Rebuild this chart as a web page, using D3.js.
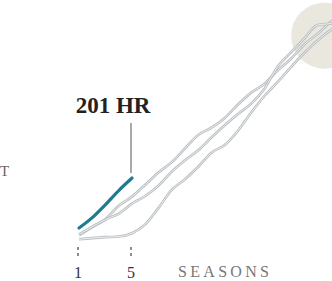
<!DOCTYPE html>
<html><head><meta charset="utf-8">
<script src="https://cdn.jsdelivr.net/npm/d3@7"></script>
<style>body{margin:0;background:#fff}svg{display:block}</style>
</head><body><svg id="c" width="332" height="281"></svg>
<script>
// Career cumulative home runs by season
const aaron = [13,40,66,110,140,179,219,253,298,342,366,398,442,481,510,554,592,639,673,713,733,745,755];
const bonds = [16,41,65,84,117,142,176,222,259,292,334,374,411,445,494,567,613,658,703,708,734];
const ruth  = [0,4,7,9,20,49,103,162,197,238,284,309,356,416,470,516,565,611,652,686,708,714];
const current = [37,71,114,160,201];
const tickSeasons = [1,5];
const tickLabels = ["1","5"];
const highlight = {season:19.5, hr:668};

const svg = d3.select("#c");
const x = d3.scaleLinear().domain([1,5]).range([79,132]);
const y = d3.scaleLinear().domain([0,800]).range([239.3,239.3-0.3049*800]);

svg.append("circle").attr("cx",x(highlight.season)).attr("cy",y(highlight.hr)).attr("r",33).attr("fill","#e9e7de");

const line = d3.line().x((d,i)=>x(i+1)).y(d=>y(d)).curve(d3.curveMonotoneX);
[aaron,bonds,ruth].forEach(s=>{
  svg.append("path").attr("d",line(s)).attr("fill","none").attr("stroke","#b9bec1").attr("stroke-width",2.6);
  svg.append("path").attr("d",line(s)).attr("fill","none").attr("stroke","#eef0f1").attr("stroke-width",1);
});
svg.append("path").attr("d",line(current)).attr("fill","none").attr("stroke","#1e7c92").attr("stroke-width",3.2).attr("stroke-linecap","round");

// leader + label
svg.append("line").attr("x1",x(5)-1).attr("x2",x(5)-1).attr("y1",123).attr("y2",y(201)-5).attr("stroke","#555").attr("stroke-width",1);
svg.append("text").attr("x",113).attr("y",113).attr("text-anchor","middle")
  .attr("font-family","Liberation Serif, serif").attr("font-weight","bold").attr("font-size",23).attr("fill","#222").text("201 HR");

// axis ticks
const g = svg.append("g");
tickSeasons.forEach((s,i)=>{
  g.append("line").attr("x1",x(s)-1).attr("x2",x(s)-1).attr("y1",247).attr("y2",258).attr("stroke","#444").attr("stroke-width",1.2).attr("stroke-dasharray","3,3");
  g.append("text").attr("x",x(s)-1).attr("y",278).attr("text-anchor","middle").attr("font-family","Liberation Serif, serif").attr("font-size",16).attr("fill","#333").text(tickLabels[i]);
});
svg.append("text").attr("x",178).attr("y",277).attr("font-family","Liberation Serif, serif").attr("font-size",16).attr("letter-spacing",3.3).attr("fill","#777").text("SEASONS");
svg.append("text").attr("x",0).attr("y",176).attr("font-family","Liberation Serif, serif").attr("font-size",15).attr("fill","#666").text("T");
</script></body></html>
